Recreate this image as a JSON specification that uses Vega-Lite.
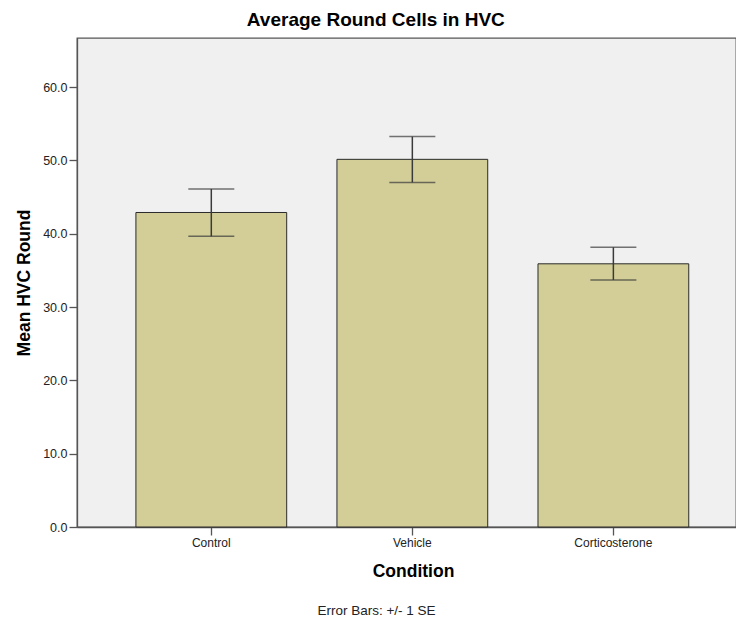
{
  "$schema": "https://vega.github.io/schema/vega-lite/v6.json",
  "autosize": {"type": "none"},
  "padding": {"left": 77, "top": 38, "right": 0, "bottom": 93},
  "width": 659,
  "height": 489,
  "background": "white",
  "title": {"text": "Average Round Cells in HVC", "anchor": "middle", "frame": "bounds", "font": "Liberation Sans", "fontSize": 19, "fontWeight": "bold", "color": "#000000", "offset": 8},
  "config": {"view": {"fill": "#f0f0f0", "stroke": "#555555", "strokeWidth": 1.3}, "font": "Liberation Sans"},
  "data": {"values": [
    {"Condition": "Control", "mean": 42.9, "lower": 39.65, "upper": 46.1},
    {"Condition": "Vehicle", "mean": 50.15, "lower": 47.0, "upper": 53.25},
    {"Condition": "Corticosterone", "mean": 35.9, "lower": 33.7, "upper": 38.15}
  ]},
  "layer": [
    {
      "mark": {"type": "bar", "fill": "#d3ce97", "stroke": "#2a2a2a", "strokeWidth": 1},
      "encoding": {
        "x": {"field": "Condition", "type": "nominal", "sort": null,
          "scale": {"paddingInner": 0.25, "paddingOuter": 0.264, "align": 0.555},
          "axis": {"title": "Condition", "titleFontSize": 17.5, "titleFontWeight": "bold", "titleColor": "#000000", "titlePadding": 14, "titleX": 336,
            "labelAngle": 0, "labelFontSize": 12, "labelColor": "#222222", "labelPadding": 2,
            "tickSize": 8, "tickColor": "#555555", "tickWidth": 1.3, "domainColor": "#555555", "domainWidth": 1.3}},
        "y": {"field": "mean", "type": "quantitative", "title": "Mean HVC Round",
          "scale": {"domain": [0, 66.7], "nice": false, "zero": true},
          "axis": {"titleFontSize": 17.5, "titleFontWeight": "bold", "titleColor": "#000000", "titlePadding": 9,
            "values": [0, 10, 20, 30, 40, 50, 60], "format": ".1f", "labelFontSize": 12.5, "labelColor": "#222222", "labelPadding": 2,
            "tickSize": 8, "grid": false, "domainColor": "#555555", "tickColor": "#555555", "domainWidth": 1.3, "tickWidth": 1.3}}
      }
    },
    {
      "mark": {"type": "rule", "color": "#3a3a3a", "strokeWidth": 1.5},
      "encoding": {
        "x": {"field": "Condition", "type": "nominal", "sort": null,
          "axis": {"orient": "bottom", "labels": false, "ticks": false, "domain": false, "grid": false,
            "title": "Error Bars: +/- 1 SE", "titleFontSize": 13.5, "titleFontWeight": "normal", "titleColor": "#222222", "titlePadding": 76, "titleX": 299}},
        "y": {"field": "lower", "type": "quantitative", "title": "Mean HVC Round"},
        "y2": {"field": "upper"}
      }
    },
    {
      "mark": {"type": "tick", "color": "#3a3a3a", "thickness": 1.5, "size": 46},
      "encoding": {
        "x": {"field": "Condition", "type": "nominal", "sort": null, "axis": null},
        "y": {"field": "upper", "type": "quantitative", "title": "Mean HVC Round"}
      }
    },
    {
      "mark": {"type": "tick", "color": "#3a3a3a", "thickness": 1.5, "size": 46},
      "encoding": {
        "x": {"field": "Condition", "type": "nominal", "sort": null, "axis": null},
        "y": {"field": "lower", "type": "quantitative", "title": "Mean HVC Round"}
      }
    }
  ],
  "resolve": {"axis": {"x": "independent"}}
}
